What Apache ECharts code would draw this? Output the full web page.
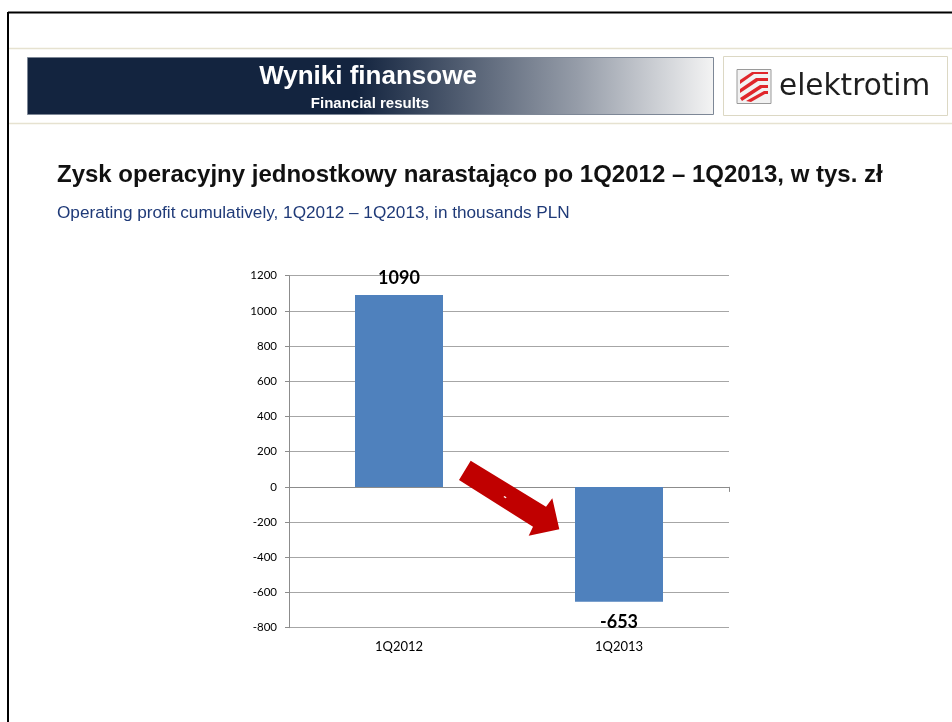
<!DOCTYPE html>
<html>
<head>
<meta charset="utf-8">
<script src="https://cdn.jsdelivr.net/npm/echarts@6/dist/echarts.min.js"></script>
<style>
html,body{margin:0;padding:0;background:#fff;}
#c{width:952px;height:722px;}
</style>
</head>
<body>
<div id="c"></div>
<script>
var categories = ['1Q2012', '1Q2013'];
var values = [1090, -653];
var labelSides = ['top', 'bottom'];
var yTicks = {min: -800, max: 1200, interval: 200};

var chart = echarts.init(document.getElementById('c'));

var barData = values.map(function (v, i) {
  return {value: v, label: {position: labelSides[i], distance: labelSides[i] === 'top' ? 7.5 : 11}};
});

var option = {
  animation: false,
  backgroundColor: '#ffffff',
  grid: {left: 289, right: 223, top: 275.7, bottom: 94.3, containLabel: false, outerBoundsMode: 'none'},
  xAxis: [{
    type: 'category',
    data: categories,
    axisLine: {show: true, onZero: true, lineStyle: {color: '#8c8c8c', width: 1}},
    axisTick: {show: true, length: 5, lineStyle: {color: '#8c8c8c'}},
    axisLabel: {show: false}
  }, {
    type: 'category',
    data: categories,
    position: 'bottom',
    axisLine: {show: false, onZero: false},
    axisTick: {show: false},
    axisLabel: {margin: 13, color: '#000', fontFamily: 'Lato', fontSize: 13}
  }],
  yAxis: {
    type: 'value',
    min: yTicks.min, max: yTicks.max, interval: yTicks.interval,
    axisLine: {show: true, lineStyle: {color: '#8c8c8c'}},
    axisTick: {show: true, length: 4, lineStyle: {color: '#8c8c8c'}},
    axisLabel: {margin: 12, color: '#000', fontFamily: 'Lato', fontSize: 11.5, formatter: function (v) { return String(v); }},
    splitLine: {show: true, lineStyle: {color: '#a6a6a6', width: 1}}
  },
  series: [{
    type: 'bar',
    xAxisIndex: 0,
    data: barData,
    barWidth: '40%',
    itemStyle: {color: '#4f81bd'},
    label: {show: true, color: '#000', fontFamily: 'Lato', fontWeight: 'bold', fontSize: 18}
  }],
  graphic: [
    {type: 'line', shape: {x1: 8, y1: 12.5, x2: 952, y2: 12.5}, style: {stroke: '#000', lineWidth: 2}},
    {type: 'line', shape: {x1: 8, y1: 12, x2: 8, y2: 722}, style: {stroke: '#000', lineWidth: 2}},
    {type: 'line', shape: {x1: 9, y1: 48.5, x2: 952, y2: 48.5}, style: {stroke: '#e6e2d0', lineWidth: 1.5}},
    {type: 'line', shape: {x1: 9, y1: 123.5, x2: 952, y2: 123.5}, style: {stroke: '#e6e2d0', lineWidth: 1.5}},
    {type: 'rect', shape: {x: 27.5, y: 57.5, width: 686, height: 57},
      style: {
        fill: new echarts.graphic.LinearGradient(0, 0, 1, 0, [
          {offset: 0, color: '#13243f'},
          {offset: 0.48, color: '#13243f'},
          {offset: 0.8, color: '#959ca8'},
          {offset: 1, color: '#f4f4f4'}
        ]),
        stroke: '#7d8796', lineWidth: 1
      }},
    {type: 'text', x: 368, y: 77, style: {text: 'Wyniki finansowe', fill: '#fff', font: 'bold 26px "Liberation Sans", Arial', align: 'center', verticalAlign: 'middle'}},
    {type: 'text', x: 370, y: 104, style: {text: 'Financial results', fill: '#fff', font: 'bold 15px "Liberation Sans", Arial', align: 'center', verticalAlign: 'middle'}},
    {type: 'rect', shape: {x: 723.5, y: 56.5, width: 224, height: 59}, style: {fill: '#fff', stroke: '#dcd8c4', lineWidth: 1}},
    {type: 'rect', shape: {x: 737, y: 69.5, width: 34, height: 34}, style: {fill: '#f2f2f2', stroke: '#9a9a9a', lineWidth: 1}},
    {type: 'polygon', shape: {points: [[740, 80], [752, 72], [768, 72], [768, 74], [754, 74], [740, 84]]}, style: {fill: '#e0262b'}},
    {type: 'polygon', shape: {points: [[740, 89], [756, 78], [768, 78], [768, 81], [758, 81], [740, 93]]}, style: {fill: '#e0262b'}},
    {type: 'polygon', shape: {points: [[740, 98], [760, 85], [768, 85], [768, 88], [762, 88], [742, 101]]}, style: {fill: '#e0262b'}},
    {type: 'polygon', shape: {points: [[746, 101], [764, 91], [768, 91], [768, 94], [765, 94], [751, 102]]}, style: {fill: '#e0262b'}},
    {type: 'text', x: 779, y: 87, style: {text: 'elektrotim', fill: '#1e1e1e', font: '29.5px "DejaVu Sans", Verdana', verticalAlign: 'middle'}},
    {type: 'text', x: 57, y: 175, style: {text: 'Zysk operacyjny jednostkowy narastająco po 1Q2012 – 1Q2013, w tys. zł', fill: '#111', font: 'bold 24px "Liberation Sans", Arial', verticalAlign: 'middle'}},
    {type: 'text', x: 57, y: 213, style: {text: 'Operating profit cumulatively, 1Q2012 – 1Q2013, in thousands PLN', fill: '#1f3a78', font: '17.2px "Liberation Sans", Arial', verticalAlign: 'middle'}},
    {type: 'polygon', z: 10, shape: {points: [[470.7, 460.7], [546, 506.7], [552.3, 498.3], [559.3, 529.3], [528.7, 535.7], [533, 526.7], [459, 480]]}, style: {fill: '#c00000'}},
    {type: 'text', z: 11, x: 505, y: 497, rotation: -0.55, style: {text: '-', fill: '#fff', font: 'bold 10px "Liberation Sans"', align: 'center', verticalAlign: 'middle'}}
  ]
};
chart.setOption(option);
</script>
</body>
</html>
